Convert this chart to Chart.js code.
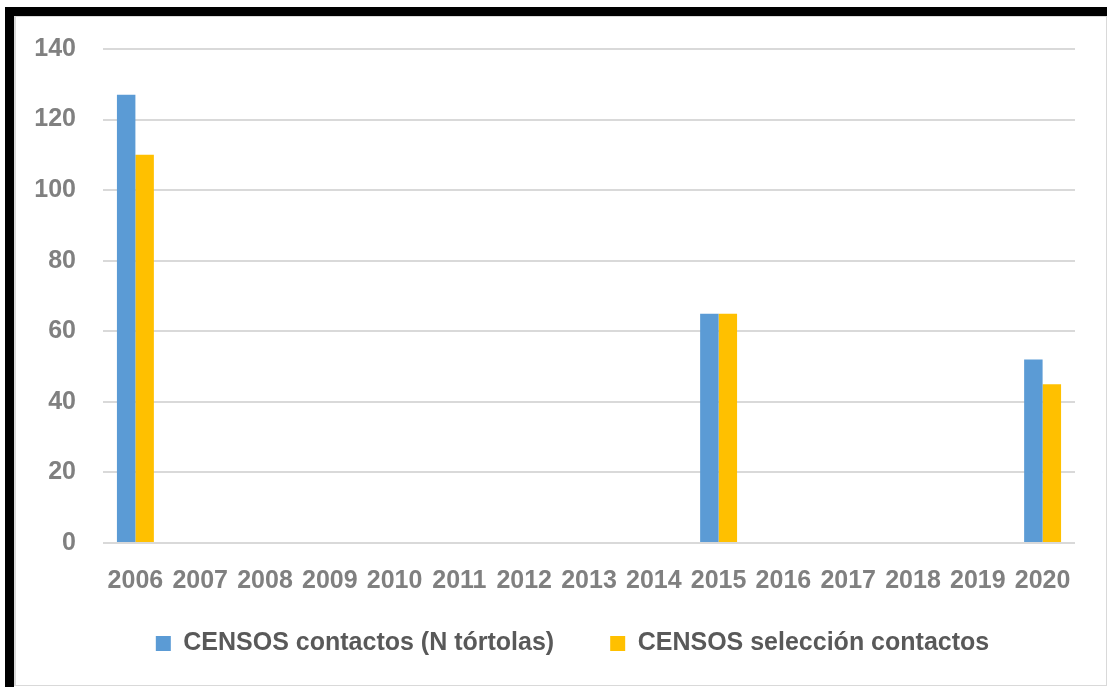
<!DOCTYPE html>
<html>
<head>
<meta charset="utf-8">
<script src="https://cdn.jsdelivr.net/npm/chart.js@4.4.1/dist/chart.umd.min.js"></script>
<style>
  body { margin: 0; background: #fff; overflow: hidden; }
  #frame { position: absolute; left: 5px; top: 7px; width: 1102px; height: 680px;
           border-top: 9px solid #000; border-left: 9px solid #000; box-sizing: border-box; }
  #inner { position: absolute; left: 14px; top: 16px; right: 0; bottom: 1px;
           border: 1px solid #d9d9d9; border-left-width: 2px; }
  #chart { position: absolute; left: 0; top: 0; }
</style>
</head>
<body>
<div id="frame"></div>
<div id="inner"></div>
<canvas id="chart" width="1107" height="687"></canvas>
<script>
const years = ["2006", "2007", "2008", "2009", "2010", "2011", "2012", "2013",
               "2014", "2015", "2016", "2017", "2018", "2019", "2020"];
const contactos = [127, null, null, null, null, null, null, null, null, 65, null, null, null, null, 52];
const seleccion = [110, null, null, null, null, null, null, null, null, 65, null, null, null, null, 45];

const fontFamily = "'Liberation Sans', Arial, sans-serif";

// the axes are squeezed so the legend sits where it should; open up their label clip areas again
const unclipLabels = {
  id: "unclipLabels",
  afterLayout(chart) {
    chart.scales.y.left = 0;
    chart.scales.x.bottom = chart.height;
  },
};

const ctx = document.getElementById("chart").getContext("2d");
const myChart = new Chart(ctx, {
  type: "bar",
  data: {
    labels: years,
    datasets: [
      { label: "CENSOS contactos (N tórtolas)", data: contactos, backgroundColor: "#5b9bd5" },
      { label: "CENSOS selección contactos", data: seleccion, backgroundColor: "#ffc000" },
    ],
  },
  plugins: [unclipLabels],
  options: {
    responsive: false,
    animation: false,
    datasets: { bar: { categoryPercentage: 0.57, barPercentage: 1.0 } },
    layout: { padding: { left: 70, right: 32, top: 49, bottom: 21 } },
    plugins: {
      tooltip: { enabled: false },
      legend: {
        position: "bottom",
        labels: {
          color: "#595959",
          font: { family: fontFamily, size: 25, weight: "bold" },
          boxWidth: 15,
          boxHeight: 15,
          padding: 56,
        },
      },
    },
    scales: {
      x: {
        grid: { display: false },
        border: { display: false },
        ticks: { color: "#808080", padding: 15, maxRotation: 0, autoSkip: false,
                 font: { family: fontFamily, size: 25, weight: "bold" } },
        afterFit: (scale) => { scale.height = 32; },
      },
      y: {
        min: 0,
        max: 140,
        ticks: { stepSize: 20, color: "#808080", padding: 27,
                 font: { family: fontFamily, size: 25, weight: "bold" } },
        grid: { color: "#d9d9d9", lineWidth: 2, drawTicks: false },
        border: { display: false },
        afterFit: (scale) => { scale.width = 33; },
      },
    },
  },
});
</script>
</body>
</html>
